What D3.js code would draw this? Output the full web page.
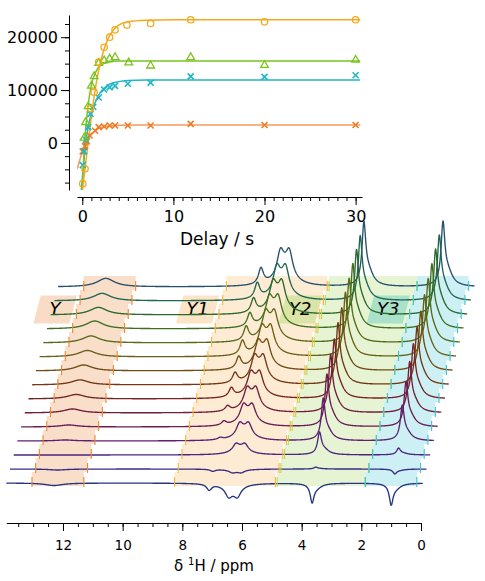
<!DOCTYPE html>
<html>
<head>
<meta charset="utf-8">
<script src="https://cdn.jsdelivr.net/npm/d3@7"></script>
<style>
  body { margin: 0; background: #fff; }
  svg { display: block; font-family: "DejaVu Sans", sans-serif; }
</style>
</head>
<body>
<div id="chart"></div>
<script>
// ---- top panel: signal vs delay ----
const circleT = [0.05, 0.3, 0.9, 1.3, 1.8, 2.4, 3.0, 3.6, 4.9, 7.5, 11.9, 20, 30];
const circleY = [-7700, -4900, 6500, 9600, 15300, 18100, 20000, 21400, 22300, 22600, 23300, 22900, 23300];
const triT = [0.2, 0.36, 0.65, 1.0, 1.3, 1.8, 2.4, 3.0, 3.6, 5.1, 7.5, 11.9, 20, 30];
const triY = [950, 3900, 6900, 10800, 12600, 15100, 15600, 15900, 16200, 15200, 14600, 16200, 14700, 15700];
const cyanT = [0.05, 0.2, 0.4, 0.65, 0.9, 1.2, 1.8, 2.4, 3.0, 3.6, 5.0, 7.5, 11.9, 20, 30];
const cyanY = [-4200, -1600, 600, 3000, 5500, 6800, 8600, 10100, 10500, 10800, 11200, 11400, 12600, 12500, 12800];
const orangeT = [0.05, 0.3, 0.5, 0.8, 1.4, 1.8, 2.4, 3.0, 3.6, 5.0, 7.5, 11.9, 20, 30];
const orangeY = [-1600, -600, 300, 1400, 2300, 3000, 3100, 3300, 3300, 3300, 3300, 3600, 3400, 3400];

// fitted curves
const fitCircle = [[0.02, -8900], [0.5, -2000], [1, 5000], [1.5, 11000], [2, 15300], [2.5, 18300], [3, 20300], [3.5, 21500], [4, 22300], [5, 22900], [7, 23200], [10, 23300], [30.5, 23300]];
const fitTri = [[0, -8900], [0.25, 0], [0.5, 5000], [0.75, 8500], [1, 11000], [1.5, 13500], [2, 14700], [3, 15300], [4, 15500], [30.5, 15500]];
const fitCyan = [[-0.1, -8900], [0.25, -2000], [0.5, 1500], [1, 5600], [1.5, 8000], [2, 9600], [2.5, 10500], [3, 11100], [4, 11600], [5, 11800], [7, 11900], [30.5, 11900]];
const fitOrange = [[-0.55, -4900], [0, -1700], [0.5, 300], [1, 1600], [1.5, 2400], [2, 2900], [3, 3200], [4, 3350], [6, 3400], [30.5, 3400]];

const delayTicks = [0, 10, 20, 30];
const signalTicks = [0, 10000, 20000];

// ---- bottom panel: stacked spectra (front = 0, back = 14) ----
const peakPpm = [12.3, 7.1, 6.45, 6.15, 6.3, 3.65, 3.5, 1.0, 0.85];
const peakHwhm = [0.35, 0.1, 0.13, 0.13, 0.35, 0.075, 0.2, 0.075, 0.2];
const peakWeight = [1, 1, 1, 1, 0.75, 1, 0.25, 1, 0.25];
const ampY = [-3.8, -1.5, 0, 1.5, 3, 6, 6.8, 7.6, 9, 9.8, 10.6, 12, 11.4, 11.4, 12.9];
const ampY1a = [-9, -3, 0, 3, 6, 7.6, 13.6, 15, 18, 21, 21, 20, 21, 23, 24];
const ampY1 = [-12.5, -3.3, 10, 16, 20, 22.5, 24, 26, 26.7, 27.5, 28.3, 29.2, 30, 31, 32.5];
const ampY2 = [-26, 2.6, 30, 56, 69, 76, 78, 81, 82, 84, 84, 85, 85, 85, 85];
const ampY3 = [-29, -6.5, 9, 47, 59, 67, 72, 76, 78, 81, 84, 85, 86, 86, 86];
const peakAmps = [ampY, ampY1a, ampY1, ampY1, ampY1, ampY2, ampY2, ampY3, ampY3];

const traceColors = ["#27347f", "#382b86", "#4d2580", "#5f1f6e", "#6a1c55", "#711d3b", "#742424", "#733716",
  "#6f4c14", "#6a6016", "#566b18", "#3f6f1e", "#2b6a2c", "#1f6552", "#27506f"];

const regionNames = ["Y", "Y1", "Y2", "Y3"];
const regionLeft = [13.04, 8.26, 4.82, 1.87];
const regionRight = [11.3, 4.88, 1.87, 0.14];
const regionFill = ["#f9dec9", "#fdebd3", "#e6f4d3", "#ccf0f3"];
const regionBox = ["#f8dcc5", "#fce5c6", "#d9e4a6", "#aae1c9"];
const regionTick = ["#f0862c", "#f5b43a", "#b5d84a", "#3cc4d4"];

const ppmTicks = [0, 2, 4, 6, 8, 10, 12];

const width = 485, height = 581;
const svg = d3.select("#chart").append("svg").attr("width", width).attr("height", height);

// ================= top panel =================
const tx = d3.scaleLinear().domain([-0.58, 30.7]).range([77, 362]);
const ty = d3.scaleLinear().domain([-8900, 24200]).range([190, 15]);

svg.append("clipPath").attr("id", "topclip")
  .append("rect").attr("x", 77).attr("y", 15).attr("width", 285).attr("height", 175);

function styleAxis(g, size) {
  g.selectAll("path, line").attr("stroke", "#000").attr("stroke-width", 1);
  g.selectAll("text").attr("fill", "#000").style("font-size", size + "px").style("font-family", "DejaVu Sans");
}

const yMinor = svg.append("g").attr("transform", "translate(69,0)")
  .call(d3.axisLeft(ty).tickValues(d3.range(-7500, 24000, 2500)).tickSize(4).tickSizeOuter(0).tickFormat(""));
styleAxis(yMinor, 16);
const yMajor = svg.append("g").attr("transform", "translate(69,0)")
  .call(d3.axisLeft(ty).tickValues(signalTicks).tickSize(8).tickSizeOuter(0).tickPadding(3).tickFormat(d3.format("d")));
yMajor.select(".domain").remove();
styleAxis(yMajor, 16);

const xMinor = svg.append("g").attr("transform", "translate(0,197)")
  .call(d3.axisBottom(tx).tickValues(d3.range(0, 31, 1)).tickSize(4).tickSizeOuter(0).tickFormat(""));
styleAxis(xMinor, 16);
const xMajor = svg.append("g").attr("transform", "translate(0,197)")
  .call(d3.axisBottom(tx).tickValues(delayTicks).tickSize(8).tickSizeOuter(0).tickPadding(6));
xMajor.select(".domain").remove();
styleAxis(xMajor, 16);

svg.append("text").attr("x", 217).attr("y", 245).attr("text-anchor", "middle")
  .style("font-size", "17px").text("Delay / s");

const fitLine = d3.line().x(d => tx(d[0])).y(d => ty(d[1])).curve(d3.curveMonotoneX);
const topPlot = svg.append("g").attr("clip-path", "url(#topclip)");

const series = [
  { fit: fitOrange, t: orangeT, y: orangeY, color: "#f07a22", line: "#f39a5c", mark: "x" },
  { fit: fitCyan, t: cyanT, y: cyanY, color: "#1fb6c6", line: "#1fb6c6", mark: "x" },
  { fit: fitTri, t: triT, y: triY, color: "#7ac41f", line: "#7ac41f", mark: "tri" },
  { fit: fitCircle, t: circleT, y: circleY, color: "#f5a81e", line: "#f5a81e", mark: "circle" }
];

series.forEach(s => {
  topPlot.append("path").datum(s.fit).attr("d", fitLine)
    .attr("fill", "none").attr("stroke", s.line).attr("stroke-width", 1.5);
});

series.forEach(s => {
  const pts = s.t.map((t, i) => [t, s.y[i]]);
  const g = svg.append("g");
  if (s.mark === "circle") {
    g.selectAll("circle").data(pts).join("circle")
      .attr("cx", d => tx(d[0])).attr("cy", d => ty(d[1])).attr("r", 3.2)
      .attr("fill", "none").attr("stroke", s.color).attr("stroke-width", 1.3);
  } else if (s.mark === "tri") {
    g.selectAll("path").data(pts).join("path")
      .attr("d", d3.symbol(d3.symbolTriangle, 26))
      .attr("transform", d => `translate(${tx(d[0])},${ty(d[1])})`)
      .attr("fill", "none").attr("stroke", s.color).attr("stroke-width", 1.3);
  } else {
    g.selectAll("path").data(pts).join("path")
      .attr("d", "M-3,-3L3,3M-3,3L3,-3")
      .attr("transform", d => `translate(${tx(d[0])},${ty(d[1])})`)
      .attr("fill", "none").attr("stroke", s.color).attr("stroke-width", 1.6);
  }
});

// ================= bottom panel =================
const px = d3.scaleLinear().domain([13.9, 0]).range([6.3, 421]);
const kOff = d3.scaleLinear().domain([0, 14]).range([0, 51.8]);
const kBase = d3.scaleLinear().domain([0, 14]).range([483, 287]);
const inten = d3.scaleLinear().domain([0, 100]).range([0, 66]);
const traces = d3.range(traceColors.length);

// shaded regions, one step per trace
const shade = svg.append("g");
regionNames.forEach((name, r) => {
  shade.selectAll(null).data(traces).join("rect")
    .attr("x", k => px(regionLeft[r]) + kOff(k))
    .attr("width", px(regionRight[r]) - px(regionLeft[r]))
    .attr("y", k => kBase(k) - 11)
    .attr("height", 14)
    .attr("fill", regionFill[r]);
});

// label boxes, sitting just left of each region
const boxK0 = 11.6, boxK1 = 13.6, boxW = 36;
const labels = svg.append("g");
regionNames.forEach((name, r) => {
  const xr0 = px(regionLeft[r]) + kOff(boxK0) - 5.5;
  const xr1 = px(regionLeft[r]) + kOff(boxK1) - 5.5;
  const y0 = kBase(boxK0) + 3, y1 = kBase(boxK1) + 3;
  labels.append("path")
    .attr("d", `M${xr0 - boxW},${y0}L${xr1 - boxW},${y1}L${xr1},${y1}L${xr0},${y0}Z`)
    .attr("fill", regionBox[r]);
});

// spectra, back to front
const ppmGrid = d3.range(13.9, -0.065, -0.01);
function intensity(k, ppm) {
  let s = 0;
  peakPpm.forEach((p, i) => {
    const u = (ppm - p) / peakHwhm[i];
    s += peakAmps[i][k] * peakWeight[i] / (1 + u * u);
  });
  return s;
}
const specG = svg.append("g");
traces.slice().reverse().forEach(k => {
  const line = d3.line()
    .x(p => px(p) + kOff(k))
    .y(p => kBase(k) - inten(intensity(k, p)));
  specG.append("path").datum(ppmGrid).attr("d", line)
    .attr("fill", "none").attr("stroke", traceColors[k]).attr("stroke-width", 1.35)
    .attr("stroke-linejoin", "round");
});

// region boundary ticks
const tickG = svg.append("g");
regionNames.forEach((name, r) => {
  [regionLeft[r], regionRight[r]].forEach(b => {
    tickG.selectAll(null).data(traces).join("line")
      .attr("x1", k => px(b) + kOff(k)).attr("x2", k => px(b) + kOff(k))
      .attr("y1", k => kBase(k) - 6).attr("y2", k => kBase(k) + 4)
      .attr("stroke", regionTick[r]).attr("stroke-width", 1.1);
  });
});

// region labels
regionNames.forEach((name, r) => {
  const xc = px(regionLeft[r]) + kOff((boxK0 + boxK1) / 2) - 5.5 - boxW / 2;
  labels.append("text").attr("x", xc).attr("y", 315)
    .attr("text-anchor", "middle").style("font-size", "18px").style("font-style", "italic")
    .text(name);
});

// ppm axis
const pMinor = svg.append("g").attr("transform", "translate(0,523)")
  .call(d3.axisBottom(px).tickValues(d3.range(0, 14, 0.5)).tickSize(4).tickSizeOuter(0).tickFormat(""));
styleAxis(pMinor, 13.5);
const pMajor = svg.append("g").attr("transform", "translate(0,523)")
  .call(d3.axisBottom(px).tickValues(ppmTicks).tickSize(8).tickSizeOuter(0).tickPadding(9));
pMajor.select(".domain").remove();
styleAxis(pMajor, 13.5);

const ttl = svg.append("text").attr("x", 214).attr("y", 571).attr("text-anchor", "middle")
  .style("font-size", "15px");
ttl.append("tspan").text("δ ");
ttl.append("tspan").attr("dy", -6).style("font-size", "10px").text("1");
ttl.append("tspan").attr("dy", 6).text("H / ppm");
</script>
</body>
</html>
